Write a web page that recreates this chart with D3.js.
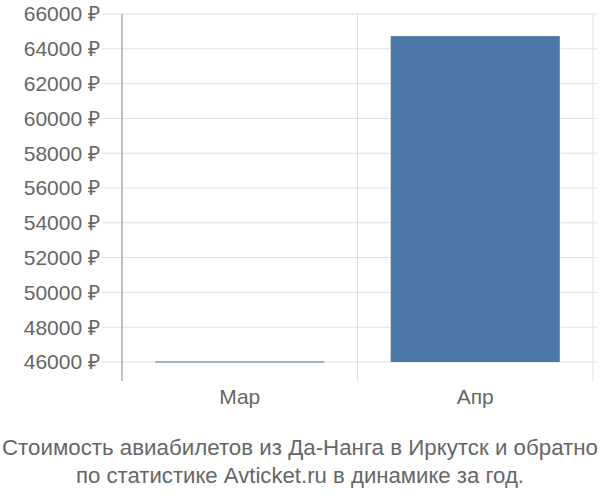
<!DOCTYPE html>
<html>
<head>
<meta charset="utf-8">
<script src="https://cdn.jsdelivr.net/npm/d3@7"></script>
<style>
  body { margin: 0; background: #fff; }
  #outer { width: 600px; height: 500px; }
</style>
</head>
<body>
<div id="outer"></div>
<script>
////////// Data //////////
const months = ['Мар', 'Апр'];
const prices = [46030, 64730];
const yTicks = [46000, 48000, 50000, 52000, 54000, 56000, 58000, 60000, 62000, 64000, 66000];
const captionLines = [
	'Стоимость авиабилетов из Да-Нанга в Иркутск и обратно',
	'по статистике Avticket.ru в динамике за год.'
];

function renderChart () {
	const width = 600, height = 500;
	const plot = {left: 122, right: 593, top: 14, bottom: 362};
	const textColor = '#666666';
	const gridColor = '#e0e0e0';
	const axisColor = '#aaaaaa';
	const barColor = '#4c78a8';
	const font = '"Liberation Sans", Arial, sans-serif';

	const svg = d3.select('#outer').append('svg')
		.attr('width', width)
		.attr('height', height);

	const x = d3.scaleBand()
		.domain(months)
		.range([plot.left, plot.right])
		.paddingInner(0.282)
		.paddingOuter(0.141);

	const y = d3.scaleLinear()
		.domain([46000, 66000])
		.range([plot.bottom, plot.top]);

	// horizontal grid
	svg.append('g').selectAll('line')
		.data(yTicks)
		.join('line')
		.attr('x1', 102)
		.attr('x2', 597)
		.attr('y1', d => y(d))
		.attr('y2', d => y(d))
		.attr('stroke', gridColor)
		.attr('stroke-width', 1);

	// vertical grid lines between bands
	const bandEdges = months.map(m => x(m) - x.step() * x.paddingOuter()).concat([plot.right]);
	svg.append('g').selectAll('line')
		.data(bandEdges.slice(1))
		.join('line')
		.attr('x1', d => d)
		.attr('x2', d => d)
		.attr('y1', plot.top)
		.attr('y2', 381)
		.attr('stroke', gridColor)
		.attr('stroke-width', 1);

	// bars
	svg.append('g').selectAll('rect')
		.data(months.map((m, i) => ({month: m, value: prices[i]})))
		.join('rect')
		.attr('x', d => x(d.month))
		.attr('width', x.bandwidth())
		.attr('y', d => y(d.value))
		.attr('height', d => Math.max(1, y(46000) - y(d.value)))
		.attr('fill', barColor);

	// y axis line
	svg.append('line')
		.attr('x1', plot.left).attr('x2', plot.left)
		.attr('y1', plot.top).attr('y2', 381)
		.attr('stroke', axisColor)
		.attr('stroke-width', 1.5);

	// y tick labels
	svg.append('g').selectAll('text')
		.data(yTicks)
		.join('text')
		.attr('x', 100)
		.attr('y', d => y(d))
		.attr('dy', '0.35em')
		.attr('text-anchor', 'end')
		.style('font', '21px ' + font)
		.attr('fill', textColor)
		.text(d => d + ' ₽');

	// x labels
	svg.append('g').selectAll('text')
		.data(months)
		.join('text')
		.attr('x', d => x(d) + x.bandwidth() / 2)
		.attr('y', 404)
		.attr('text-anchor', 'middle')
		.style('font', '21px ' + font)
		.attr('fill', textColor)
		.text(d => d);

	// caption
	const captionWidths = [596, 448];
	svg.append('g').selectAll('text')
		.data(captionLines)
		.join('text')
		.attr('x', 300)
		.attr('y', (d, i) => 455 + i * 28)
		.attr('text-anchor', 'middle')
		.attr('textLength', (d, i) => captionWidths[i])
		.attr('lengthAdjust', 'spacingAndGlyphs')
		.style('font', '22px ' + font)
		.attr('fill', textColor)
		.text(d => d);
}

renderChart();
</script>
</body>
</html>
